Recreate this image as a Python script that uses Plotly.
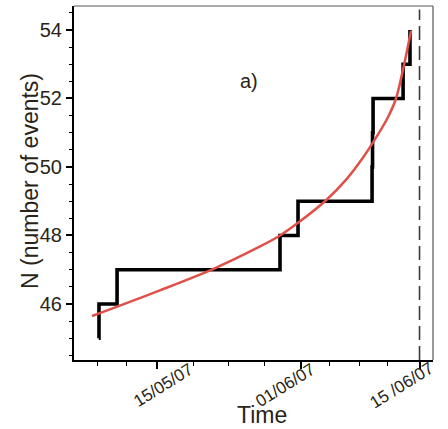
import plotly.graph_objects as go

# ---------------- data ----------------
step_times = ["2007-05-08 04:00", "2007-05-08 04:30", "2007-05-10 07:40",
              "2007-05-29 13:00", "2007-05-31 16:00", "2007-06-09 09:40",
              "2007-06-09 11:00", "2007-06-09 12:30", "2007-06-13 01:30",
              "2007-06-13 21:00"]
step_counts = [45, 46, 47, 48, 49, 50, 51, 52, 53, 54]

fit_times = ["2007-05-07 08:50", "2007-05-15 09:20", "2007-05-21 15:20",
             "2007-05-27 04:30", "2007-05-29 13:10", "2007-05-31 16:00",
             "2007-06-03 20:25", "2007-06-06 10:50", "2007-06-07 23:30",
             "2007-06-09 12:30", "2007-06-11 04:00", "2007-06-12 05:30",
             "2007-06-13 04:30", "2007-06-14 00:00"]
fit_counts = [45.65, 46.40, 47.02, 47.68, 48.00, 48.37, 49.00, 49.66,
              50.15, 50.72, 51.40, 52.00, 53.00, 53.98]

mainshock_date = "2007-06-15"

x_tick_dates = ["2007-05-15", "2007-06-01", "2007-06-15"]
x_tick_labels = ["15/05/07", "01/06/07", "15 /06/07"]
x_minor_dates = ["2007-05-07 23:00", "2007-05-11 09:00", "2007-05-19 06:45",
                 "2007-05-23 09:50", "2007-05-27 15:50", "2007-06-04 10:30",
                 "2007-06-07 20:40", "2007-06-11 04:00"]

panel_label = "a)"
x_title = "Time"
y_title = "N (number of events)"

# ---------------- style ----------------
FONT = "Liberation Sans, Arial, sans-serif"
TXT = "#2a2418"
# per-label horizontal offsets (px) of the rotated tick labels
label_xshift = [6, -16, -18]

fig = go.Figure()

fig.add_trace(go.Scatter(
    x=step_times, y=step_counts, mode="lines",
    line=dict(color="black", width=3.6, shape="hv"),
    showlegend=False, hoverinfo="skip"))

fig.add_trace(go.Scatter(
    x=fit_times, y=fit_counts, mode="lines",
    line=dict(color="#df5048", width=2.5, shape="spline", smoothing=0.8),
    showlegend=False, hoverinfo="skip"))

# dashed vertical line at the mainshock
fig.add_shape(type="line", xref="x", yref="paper",
              x0=mainshock_date, x1=mainshock_date, y0=0.0, y1=0.99,
              line=dict(color="#3a3a3a", width=1.6, dash="14px,6px"))

# thin top and right frame
fig.add_shape(type="line", xref="paper", yref="paper", x0=0, x1=1, y0=1, y1=1,
              line=dict(color="#555", width=1.2))
fig.add_shape(type="line", xref="paper", yref="paper", x0=1, x1=1, y0=0, y1=1,
              line=dict(color="#555", width=1.2))

annotations = []
for d, lab, dx in zip(x_tick_dates, x_tick_labels, label_xshift):
    annotations.append(dict(
        x=d, xref="x", y=0, yref="paper", text=lab, showarrow=False,
        textangle=-32, xanchor="center", yanchor="middle",
        xshift=dx, yshift=-25,
        font=dict(family=FONT, size=17, color=TXT)))

annotations.append(dict(
    x=0.525, xref="paper", y=0, yref="paper", text=x_title, showarrow=False,
    xanchor="center", yanchor="middle", yshift=-55,
    font=dict(family=FONT, size=23, color=TXT)))
annotations.append(dict(
    x=0, xref="paper", y=0.5, yref="paper", text=y_title, showarrow=False,
    textangle=-90, xanchor="center", yanchor="middle", xshift=-44, yshift=2,
    font=dict(family=FONT, size=23, color=TXT)))
annotations.append(dict(
    x=0.4875, xref="paper", y=0.788, yref="paper", text=panel_label,
    showarrow=False, xanchor="center", yanchor="middle",
    font=dict(family=FONT, size=20, color=TXT)))

fig.update_layout(
    width=448, height=429,
    margin=dict(l=74, r=15, t=6, b=69, pad=0),
    plot_bgcolor="white", paper_bgcolor="white",
    annotations=annotations,
    xaxis=dict(
        type="date",
        range=["2007-05-05 05:45", "2007-06-16 14:10"],
        tickmode="array", tickvals=x_tick_dates, showticklabels=False,
        ticks="outside", ticklen=7, tickwidth=1.5, tickcolor="black",
        minor=dict(tickmode="array", tickvals=x_minor_dates, ticks="outside",
                   ticklen=4, tickwidth=1.3, tickcolor="black", showgrid=False),
        showline=True, linecolor="black", linewidth=2.2,
        showgrid=False, zeroline=False, fixedrange=True),
    yaxis=dict(
        range=[44.365, 54.70],
        tickmode="linear", tick0=46, dtick=2,
        ticks="outside", ticklen=6, tickwidth=1.5, tickcolor="black",
        minor=dict(dtick=0.5, tick0=44.5, ticks="outside", ticklen=3,
                   tickwidth=1.3, tickcolor="black", showgrid=False),
        tickfont=dict(family=FONT, size=20, color=TXT),
        showline=True, linecolor="black", linewidth=2.2,
        showgrid=False, zeroline=False, fixedrange=True),
)

fig.write_html("out.html")
